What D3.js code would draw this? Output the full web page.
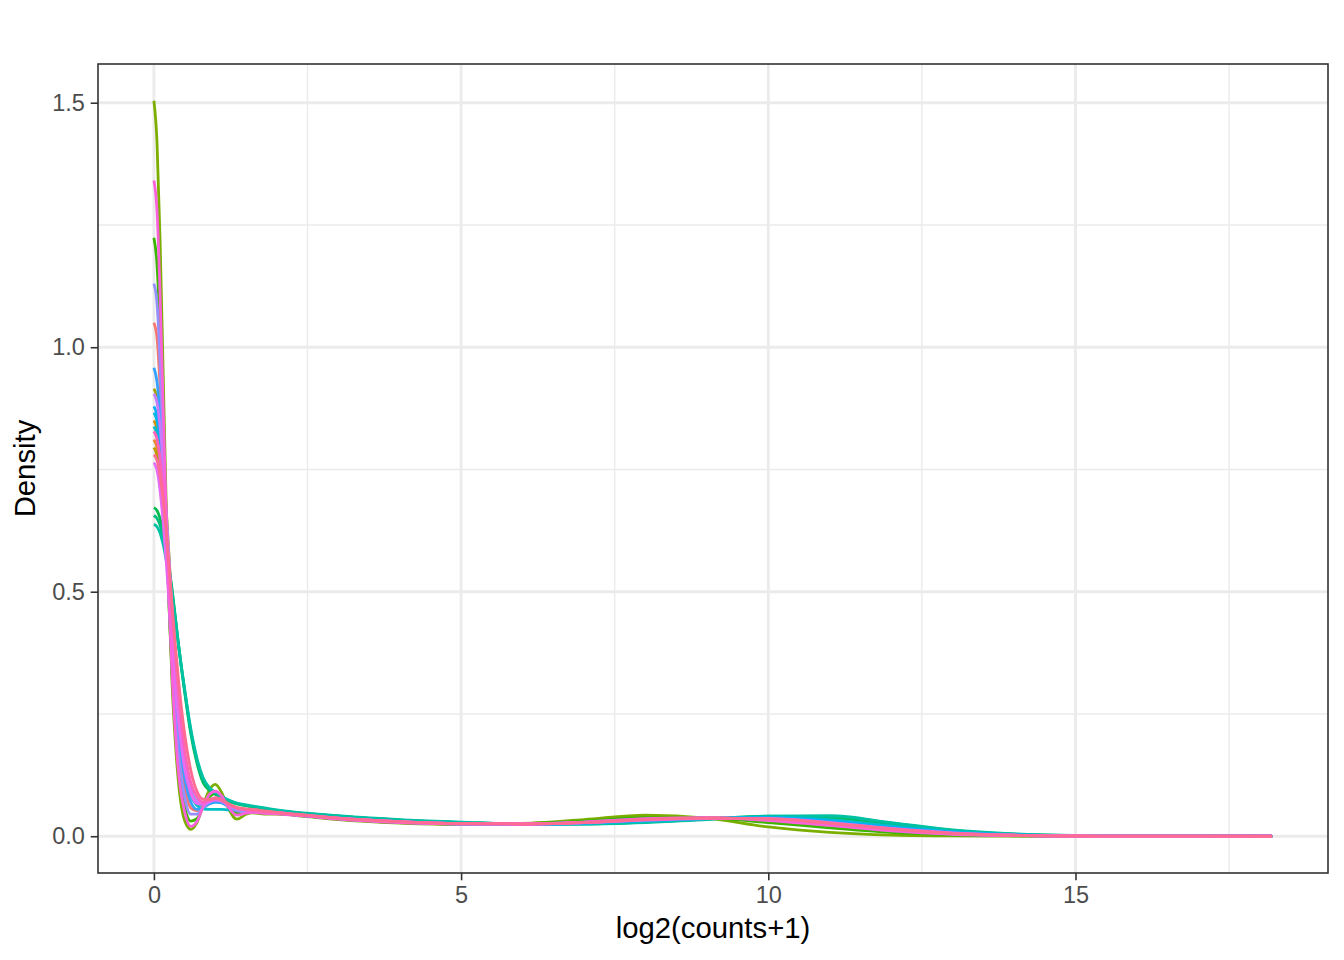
<!DOCTYPE html>
<html>
<head>
<meta charset="utf-8">
<script src="https://cdn.jsdelivr.net/npm/d3@7"></script>
<style>
  html, body { margin: 0; padding: 0; background: #ffffff; }
  svg { display: block; }
</style>
</head>
<body>
<svg id="chart" width="1344" height="960"></svg>
<script>
// ---- Data ----
// shared evaluation grid of log2(counts+1)
const knots = [0, 0.05, 0.1, 0.15, 0.2, 0.25, 0.3, 0.35, 0.4,
  0.5, 0.6, 0.7, 0.8, 0.9,
  1.0, 1.1, 1.2, 1.35, 1.5, 1.6, 1.8, 2.0,
  2.5, 3,
  4, 5, 6, 7, 8, 9, 10, 11, 12, 13, 14, 15, 16,
  18.2];

const sampleNames = ["S01","S02","S03","S04","S05","S06","S07","S08","S09","S10",
  "S11","S12","S13","S14","S15","S16","S17","S18","S19","S20"];

const sampleColors = ["#F8766D","#EA8331","#D89000","#C09B00","#A3A500","#7CAE00","#39B600","#00BB4E","#00BF7D","#00C1A3",
  "#00BFC4","#00BAE0","#00B0F6","#35A2FF","#9590FF","#C77CFF","#E76BF3","#FA62DB","#FF62BC","#FF6C91"];

const s01 = [1.05,1.02,0.92,0.78,0.62,0.48,0.36,0.26,0.19, 0.10,0.058,0.052,0.062,0.073, 0.078,0.075,0.066,0.054,0.051,0.051,0.049,0.047, 0.041,0.036, 0.029,0.025,0.025,0.029,0.035,0.038,0.035,0.026,0.014,0.006,0.002,0.0005,0.0001, 0];
const s02 = [0.811,0.795,0.751,0.681,0.596,0.502,0.409,0.322,0.249, 0.144,0.09,0.068,0.065,0.069, 0.073,0.071,0.065,0.057,0.054,0.053,0.05,0.048, 0.042,0.037, 0.03,0.026,0.025,0.028,0.034,0.037,0.034,0.025,0.013,0.005,0.0016,0.0004,0.0001, 0];
const s03 = [0.85,0.833,0.787,0.714,0.624,0.526,0.428,0.337,0.26, 0.15,0.093,0.069,0.066,0.07, 0.074,0.072,0.065,0.057,0.054,0.053,0.05,0.048, 0.042,0.037, 0.03,0.026,0.025,0.028,0.033,0.036,0.035,0.027,0.015,0.006,0.002,0.0006,0.0001, 0];
const s04 = [0.795,0.779,0.736,0.668,0.584,0.493,0.401,0.316,0.245, 0.142,0.09,0.068,0.065,0.07, 0.074,0.072,0.065,0.057,0.054,0.053,0.05,0.048, 0.042,0.037, 0.03,0.026,0.026,0.03,0.037,0.037,0.031,0.021,0.01,0.004,0.0012,0.0003,0.0001, 0];
const s05 = [0.915,0.897,0.847,0.768,0.671,0.565,0.46,0.361,0.278, 0.159,0.096,0.07,0.065,0.07, 0.074,0.072,0.065,0.057,0.054,0.053,0.05,0.048, 0.042,0.037, 0.03,0.026,0.026,0.031,0.039,0.038,0.03,0.019,0.009,0.0035,0.0011,0.0003,0.0001, 0];
const s06 = [1.504,1.42,1.22,0.95,0.68,0.46,0.30,0.19,0.11, 0.032,0.014,0.028,0.062,0.094, 0.106,0.09,0.06,0.035,0.045,0.048,0.045,0.045, 0.04,0.034, 0.027,0.024,0.026,0.034,0.043,0.037,0.019,0.008,0.0025,0.0008,0.0002,0.0001,0, 0];
const s07 = [1.224,1.17,1.03,0.83,0.63,0.46,0.32,0.22,0.14, 0.06,0.031,0.036,0.06,0.08, 0.087,0.08,0.064,0.048,0.048,0.05,0.049,0.047, 0.041,0.035, 0.028,0.025,0.026,0.031,0.038,0.037,0.028,0.017,0.008,0.003,0.001,0.0003,0.0001, 0];
const s08 = [0.672,0.666,0.65,0.624,0.588,0.547,0.50,0.446,0.392, 0.295,0.21,0.15,0.11,0.094, 0.086,0.079,0.072,0.066,0.062,0.06,0.056,0.052, 0.046,0.041, 0.033,0.028,0.025,0.026,0.03,0.035,0.04,0.038,0.025,0.011,0.004,0.0012,0.0003, 0];
const s09 = [0.656,0.65,0.636,0.611,0.577,0.54,0.497,0.445,0.393, 0.30,0.215,0.155,0.115,0.097, 0.088,0.08,0.073,0.067,0.063,0.061,0.057,0.053, 0.046,0.041, 0.033,0.028,0.025,0.025,0.029,0.035,0.041,0.04,0.027,0.012,0.004,0.0013,0.0003, 0];
const s10 = [0.638,0.633,0.62,0.597,0.565,0.53,0.49,0.44,0.39, 0.30,0.22,0.16,0.12,0.10, 0.09,0.082,0.075,0.068,0.064,0.062,0.058,0.054, 0.047,0.042, 0.034,0.029,0.025,0.025,0.028,0.034,0.041,0.042,0.028,0.013,0.005,0.0015,0.0004, 0];
const s11 = [0.838,0.821,0.775,0.704,0.615,0.519,0.422,0.332,0.257, 0.146,0.085,0.063,0.056,0.055, 0.055,0.055,0.054,0.053,0.052,0.051,0.05,0.048, 0.042,0.037, 0.03,0.026,0.024,0.026,0.031,0.036,0.039,0.034,0.021,0.009,0.003,0.0009,0.0002, 0];
const s12 = [0.866,0.849,0.801,0.727,0.636,0.536,0.436,0.343,0.265, 0.152,0.093,0.069,0.065,0.069, 0.072,0.07,0.064,0.057,0.054,0.053,0.05,0.048, 0.042,0.037, 0.03,0.026,0.025,0.027,0.032,0.036,0.038,0.032,0.019,0.009,0.003,0.0009,0.0002, 0];
const s13 = [0.879,0.861,0.813,0.738,0.645,0.544,0.442,0.348,0.268, 0.154,0.094,0.07,0.064,0.067, 0.07,0.069,0.064,0.057,0.054,0.053,0.05,0.048, 0.042,0.037, 0.03,0.026,0.025,0.027,0.032,0.036,0.038,0.031,0.018,0.008,0.003,0.0008,0.0002, 0];
const s14 = [0.958,0.93,0.86,0.75,0.62,0.49,0.38,0.28,0.21, 0.12,0.07,0.055,0.058,0.066, 0.07,0.068,0.062,0.055,0.052,0.051,0.049,0.047, 0.042,0.036, 0.029,0.025,0.024,0.027,0.033,0.037,0.037,0.029,0.016,0.007,0.002,0.0006,0.0001, 0];
const s15 = [1.13,1.09,0.97,0.80,0.62,0.47,0.34,0.24,0.17, 0.08,0.045,0.045,0.058,0.07, 0.075,0.072,0.063,0.052,0.05,0.05,0.049,0.047, 0.041,0.036, 0.029,0.025,0.025,0.029,0.035,0.037,0.034,0.025,0.013,0.005,0.0015,0.0004,0.0001, 0];
const s16 = [0.905,0.887,0.837,0.76,0.664,0.559,0.455,0.357,0.275, 0.157,0.096,0.07,0.066,0.072, 0.076,0.073,0.066,0.057,0.054,0.053,0.05,0.048, 0.042,0.037, 0.03,0.026,0.025,0.028,0.034,0.037,0.035,0.027,0.015,0.006,0.002,0.0005,0.0001, 0];
const s17 = [0.764,0.749,0.707,0.642,0.562,0.474,0.386,0.305,0.236, 0.138,0.088,0.067,0.065,0.07, 0.074,0.072,0.065,0.057,0.054,0.053,0.05,0.048, 0.042,0.037, 0.03,0.026,0.025,0.028,0.033,0.036,0.036,0.028,0.016,0.007,0.0022,0.0006,0.0001, 0];
const s18 = [1.341,1.28,1.11,0.88,0.66,0.47,0.32,0.21,0.13, 0.05,0.02,0.03,0.06,0.085, 0.092,0.083,0.062,0.043,0.047,0.049,0.047,0.046, 0.041,0.035, 0.028,0.025,0.025,0.029,0.036,0.038,0.032,0.022,0.011,0.004,0.0012,0.0003,0.0001, 0];
const s19 = [0.828,0.813,0.773,0.71,0.63,0.54,0.45,0.365,0.29, 0.175,0.11,0.08,0.07,0.074, 0.079,0.076,0.067,0.057,0.054,0.053,0.05,0.048, 0.042,0.037, 0.03,0.026,0.025,0.028,0.034,0.037,0.035,0.026,0.014,0.006,0.002,0.0005,0.0001, 0];
const s20 = [0.78,0.769,0.738,0.688,0.622,0.545,0.465,0.39,0.32, 0.21,0.135,0.092,0.076,0.075, 0.077,0.074,0.067,0.059,0.056,0.055,0.052,0.049, 0.043,0.037, 0.03,0.026,0.025,0.028,0.034,0.037,0.036,0.027,0.015,0.006,0.002,0.0005,0.0001, 0];

const seriesValues = [s01,s02,s03,s04,s05,s06,s07,s08,s09,s10,s11,s12,s13,s14,s15,s16,s17,s18,s19,s20];

const xTicks = [0, 5, 10, 15];
const xTickLabels = ["0", "5", "10", "15"];
const xMinor = [2.5, 7.5, 12.5, 17.5];
const yTicks = [0, 0.5, 1.0, 1.5];
const yTickLabels = ["0.0", "0.5", "1.0", "1.5"];
const yMinor = [0.25, 0.75, 1.25];
const xTitle = "log2(counts+1)";
const yTitle = "Density";

// ---- Layout ----
const W = 1344, H = 960;
const panel = { left: 98, right: 1328, top: 64, bottom: 873 };
const FONT = "'Liberation Sans', Arial, Helvetica, sans-serif";

const xMax = d3.max(knots), xMinD = 0;
const xPad = (xMax - xMinD) * 0.05;
const yMaxD = d3.max(seriesValues, s => d3.max(s));
const yPad = yMaxD * 0.05;

const x = d3.scaleLinear().domain([xMinD - xPad, xMax + xPad]).range([panel.left, panel.right]);
const y = d3.scaleLinear().domain([0 - yPad, yMaxD + yPad]).range([panel.bottom, panel.top]);

const svg = d3.select("#chart");
svg.append("rect").attr("width", W).attr("height", H).attr("fill", "#ffffff");

svg.append("rect")
  .attr("x", panel.left).attr("y", panel.top)
  .attr("width", panel.right - panel.left).attr("height", panel.bottom - panel.top)
  .attr("fill", "#ffffff");

const grid = svg.append("g");
grid.selectAll(".xminor").data(xMinor).join("line")
  .attr("x1", d => x(d)).attr("x2", d => x(d))
  .attr("y1", panel.top).attr("y2", panel.bottom)
  .attr("stroke", "#EBEBEB").attr("stroke-width", 1.4);
grid.selectAll(".yminor").data(yMinor).join("line")
  .attr("y1", d => y(d)).attr("y2", d => y(d))
  .attr("x1", panel.left).attr("x2", panel.right)
  .attr("stroke", "#EBEBEB").attr("stroke-width", 1.4);
grid.selectAll(".xmajor").data(xTicks).join("line")
  .attr("x1", d => x(d)).attr("x2", d => x(d))
  .attr("y1", panel.top).attr("y2", panel.bottom)
  .attr("stroke", "#EBEBEB").attr("stroke-width", 2.8);
grid.selectAll(".ymajor").data(yTicks).join("line")
  .attr("y1", d => y(d)).attr("y2", d => y(d))
  .attr("x1", panel.left).attr("x2", panel.right)
  .attr("stroke", "#EBEBEB").attr("stroke-width", 2.8);

// density lines
const line = d3.line()
  .x((d, i) => x(knots[i]))
  .y(d => y(d))
  .curve(d3.curveMonotoneX);

svg.append("g").selectAll("path").data(seriesValues).join("path")
  .attr("d", d => line(d))
  .attr("fill", "none")
  .attr("stroke", (d, i) => sampleColors[i])
  .attr("stroke-width", 2.8)
  .attr("stroke-linejoin", "round");

// panel border
svg.append("rect")
  .attr("x", panel.left).attr("y", panel.top)
  .attr("width", panel.right - panel.left).attr("height", panel.bottom - panel.top)
  .attr("fill", "none").attr("stroke", "#333333").attr("stroke-width", 1.6);

// axes
const xAxis = d3.axisBottom(x).tickValues(xTicks)
  .tickFormat((d, i) => xTickLabels[i]).tickSize(7.3).tickPadding(5.7);
const gx = svg.append("g").attr("transform", `translate(0,${panel.bottom})`).call(xAxis);
gx.select(".domain").remove();
gx.selectAll(".tick line").attr("stroke", "#333333").attr("stroke-width", 1.6);
gx.selectAll(".tick text").attr("fill", "#4D4D4D")
  .style("font-family", FONT).style("font-size", "23.5px");

const yAxis = d3.axisLeft(y).tickValues(yTicks)
  .tickFormat((d, i) => yTickLabels[i]).tickSize(7.3).tickPadding(5.9);
const gy = svg.append("g").attr("transform", `translate(${panel.left},0)`).call(yAxis);
gy.select(".domain").remove();
gy.selectAll(".tick line").attr("stroke", "#333333").attr("stroke-width", 1.6);
gy.selectAll(".tick text").attr("fill", "#4D4D4D")
  .style("font-family", FONT).style("font-size", "23.5px");

// axis titles
svg.append("text")
  .attr("x", (panel.left + panel.right) / 2).attr("y", 938)
  .attr("text-anchor", "middle")
  .style("font-family", FONT).style("font-size", "29.3px").attr("fill", "#000000")
  .text(xTitle);

svg.append("text")
  .attr("transform", `translate(35,${(panel.top + panel.bottom) / 2}) rotate(-90)`)
  .attr("text-anchor", "middle")
  .style("font-family", FONT).style("font-size", "29.3px").attr("fill", "#000000")
  .text(yTitle);
</script>
</body>
</html>
